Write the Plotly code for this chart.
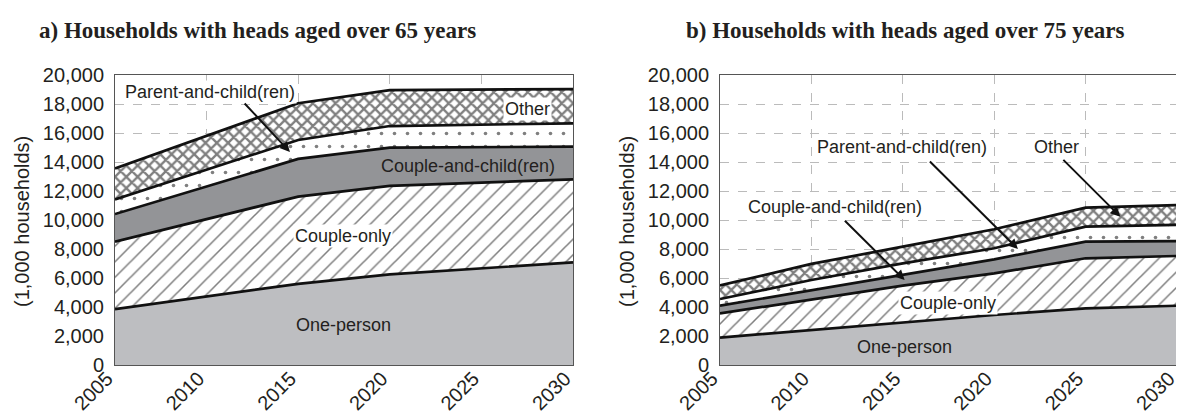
import plotly.graph_objects as go

years = [2005, 2010, 2015, 2020, 2025, 2030]
series_names = ["One-person", "Couple-only", "Couple-and-child(ren)", "Parent-and-child(ren)", "Other"]

# a) heads aged over 65 (1,000 households)
one_person_65 = [3850, 4700, 5600, 6250, 6680, 7080]
couple_only_65 = [4660, 5350, 6010, 6100, 5920, 5720]
couple_child_65 = [1900, 2250, 2600, 2640, 2420, 2260]
parent_child_65 = [1010, 1170, 1310, 1490, 1560, 1610]
other_65 = [2140, 2330, 2530, 2470, 2420, 2360]

# b) heads aged over 75 (1,000 households)
one_person_75 = [1890, 2410, 2920, 3450, 3910, 4090]
couple_only_75 = [1670, 2120, 2550, 2870, 3450, 3430]
couple_child_75 = [530, 640, 780, 970, 1150, 1030]
parent_child_75 = [460, 690, 760, 760, 1030, 1110]
other_75 = [940, 1110, 1150, 1310, 1310, 1370]

titles = ["a) Households with heads aged over 65 years", "b) Households with heads aged over 75 years"]
y_title = "(1,000 households)"
tick_years = [2005, 2010, 2015, 2020, 2025, 2030]

styles = [
    dict(fillcolor="#bdbec1", fillpattern=None),
    dict(fillcolor="white", fillpattern=dict(shape="/", fgcolor="#000", bgcolor="white", size=11, solidity=0.14)),
    dict(fillcolor="#939497", fillpattern=None),
    dict(fillcolor="white", fillpattern=dict(shape=".", fgcolor="#000", bgcolor="white", size=13, solidity=0.06)),
    dict(fillcolor="white", fillpattern=dict(shape="x", fgcolor="#000", bgcolor="white", size=8, solidity=0.5)),
]

fig = go.Figure()
panels = [
    ([one_person_65, couple_only_65, couple_child_65, parent_child_65, other_65], "x", "y", "g1"),
    ([one_person_75, couple_only_75, couple_child_75, parent_child_75, other_75], "x2", "y2", "g2"),
]
for data, xa, ya, grp in panels:
    for name, vals, st in zip(series_names, data, styles):
        kw = dict(x=years, y=vals, name=name, mode="lines", stackgroup=grp,
                  line=dict(color="#111", width=2.7), fillcolor=st["fillcolor"],
                  xaxis=xa, yaxis=ya, showlegend=False, hoverinfo="skip")
        if st["fillpattern"]:
            kw["fillpattern"] = st["fillpattern"]
        fig.add_trace(go.Scatter(**kw))

# the page adds an 8px body margin; the figure is sized/positioned to compensate
OFF = 8.0
W = 1184.0 - OFF
H = 414.0 - OFF


def px(xr):
    return (xr - OFF) / W


def py(yr):
    return 1 - (yr - OFF) / H


ydom = [py(365), py(75)]
axis_common = dict(showline=True, mirror=True, linecolor="#555", linewidth=1, automargin=False,
                   showgrid=True, gridcolor="#bbbbbb", griddash="dash", gridwidth=1,
                   zeroline=False, ticks="", ticklabeloverflow="allow",
                   tickfont=dict(family="Liberation Sans, Arial", size=20, color="#231f20"))

xaxis_extra = dict(range=[2005, 2030], tickvals=tick_years, tickangle=-45, ticklabelstandoff=-7,
                   ticklabelshift=-8)
yaxis_extra = dict(domain=ydom, range=[0, 20000], dtick=2000, tickformat=",", ticklabelstandoff=6)

fig.update_layout(
    width=int(W), height=int(H),
    margin=dict(l=0, r=0, t=0, b=0, autoexpand=False),
    paper_bgcolor="white", plot_bgcolor="white",
    xaxis=dict(domain=[px(115), px(573)], anchor="y", **xaxis_extra, **axis_common),
    yaxis=dict(anchor="x", **yaxis_extra, **axis_common),
    xaxis2=dict(domain=[px(720), px(1177)], anchor="y2", **xaxis_extra, **axis_common),
    yaxis2=dict(anchor="x2", **yaxis_extra, **axis_common),
)

lab_font = dict(family="Liberation Sans, Arial", size=18, color="#231f20")
ann = []
# titles
for t, cx in zip(titles, [257, 905]):
    ann.append(dict(text="<b>" + t + "</b>", x=px(cx), y=py(30), xref="paper", yref="paper",
                    xanchor="center", yanchor="middle", showarrow=False,
                    font=dict(family="Liberation Serif, Times New Roman", size=23, color="#231f20")))
for cx in [22, 627]:
    ann.append(dict(text=y_title, x=px(cx), y=py(222), xref="paper", yref="paper", textangle=-90,
                    xanchor="center", yanchor="middle", showarrow=False,
                    font=dict(family="Liberation Sans, Arial", size=20, color="#231f20")))

# panel a labels
ann += [
    dict(text="Parent-and-child(ren)", x=2010.19, y=18830, xref="x", yref="y", showarrow=False,
         bgcolor="white", font=lab_font),
    dict(text="", x=2014.55, y=14690, ax=2012.0, ay=18140, xref="x", yref="y", axref="x", ayref="y",
         showarrow=True, arrowhead=2, arrowsize=1, arrowwidth=2, arrowcolor="#111"),
    dict(text="Other", x=2027.54, y=17660, xref="x", yref="y", showarrow=False, bgcolor="white", font=lab_font),
    dict(text="Couple-and-child(ren)", x=2024.27, y=13720, xref="x", yref="y", showarrow=False, font=lab_font),
    dict(text="Couple-only", x=2017.45, y=8900, xref="x", yref="y", showarrow=False, bgcolor="white", font=lab_font),
    dict(text="One-person", x=2017.45, y=2760, xref="x", yref="y", showarrow=False, font=lab_font),
]
# panel b labels
ann += [
    dict(text="Parent-and-child(ren)", x=2014.96, y=15030, xref="x2", yref="y2", showarrow=False,
         bgcolor="white", font=lab_font),
    dict(text="", x=2021.3, y=8000, ax=2016.4, ay=14140, xref="x2", yref="y2", axref="x2", ayref="y2",
         showarrow=True, arrowhead=2, arrowsize=1, arrowwidth=2, arrowcolor="#111"),
    dict(text="Other", x=2023.42, y=15010, xref="x2", yref="y2", showarrow=False, bgcolor="white", font=lab_font),
    dict(text="", x=2026.9, y=10230, ax=2023.7, ay=14250, xref="x2", yref="y2", axref="x2", ayref="y2",
         showarrow=True, arrowhead=2, arrowsize=1, arrowwidth=2, arrowcolor="#111"),
    dict(text="Couple-and-child(ren)", x=2011.29, y=10920, xref="x2", yref="y2", showarrow=False,
         bgcolor="white", font=lab_font),
    dict(text="", x=2015.1, y=5860, ax=2011.75, ay=10050, xref="x2", yref="y2", axref="x2", ayref="y2",
         showarrow=True, arrowhead=2, arrowsize=1, arrowwidth=2, arrowcolor="#111"),
    dict(text="Couple-only", x=2017.49, y=4300, xref="x2", yref="y2", showarrow=False, bgcolor="white", font=lab_font),
    dict(text="One-person", x=2015.12, y=1260, xref="x2", yref="y2", showarrow=False, font=lab_font),
]
fig.update_layout(annotations=ann)

fig.write_html("out.html")
